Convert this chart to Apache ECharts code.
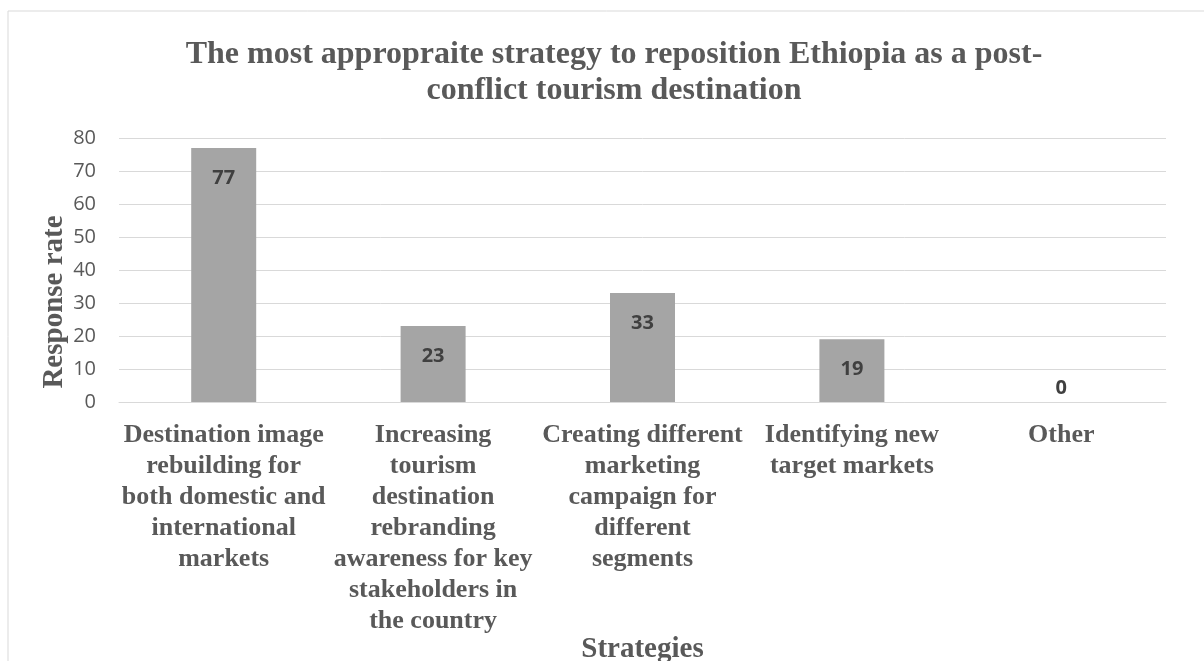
<!DOCTYPE html>
<html>
<head>
<meta charset="utf-8">
<script src="https://cdn.jsdelivr.net/npm/echarts@6/dist/echarts.min.js"></script>
<style>
  html, body { margin: 0; padding: 0; background: #ffffff; }
  #chart { width: 1204px; height: 661px; }
</style>
</head>
<body>
<div id="chart"></div>
<script>
// Survey answers: which strategy best repositions Ethiopia after the conflict
const chartTitle = 'The most appropraite strategy to reposition Ethiopia as a post-\nconflict tourism destination';
const strategies = [
  'Destination image\nrebuilding for\nboth domestic and\ninternational\nmarkets',
  'Increasing\ntourism\ndestination\nrebranding\nawareness for key\nstakeholders in\nthe country',
  'Creating different\nmarketing\ncampaign for\ndifferent\nsegments',
  'Identifying new\ntarget markets',
  'Other'
];
const responses = [77, 23, 33, 19, 0];
const yTicks = [0, 10, 20, 30, 40, 50, 60, 70, 80];

const serif = '"Liberation Serif", "Times New Roman", serif';
const sans = '"Open Sans", "Liberation Sans", sans-serif';
const grey = '#595959';

const chart = echarts.init(document.getElementById('chart'), null, { renderer: 'canvas' });

// Labels sit inside the top of each bar; an empty bar gets its label just above the axis
const barData = responses.map(v => ({
  value: v,
  label: v > 0
    ? { position: 'insideTop', distance: 20 }
    : { position: 'top', distance: 4 }
}));

chart.setOption({
  animation: false,
  backgroundColor: '#ffffff',
  graphic: [{
    type: 'rect',
    shape: { x: 8, y: 11, width: 1400, height: 900 },
    style: { fill: 'none', stroke: '#d9d9d9', lineWidth: 1 },
    silent: true
  }],
  title: {
    text: chartTitle,
    left: 609,
    top: 32,
    textAlign: 'center',
    textStyle: {
      fontFamily: serif,
      fontWeight: 'bold',
      fontSize: 32,
      lineHeight: 36,
      color: grey
    }
  },
  grid: {
    left: 119, right: 38, top: 138, bottom: 259,
    containLabel: false,
    outerBoundsMode: 'none'
  },
  xAxis: {
    type: 'category',
    data: strategies,
    name: 'Strategies',
    nameLocation: 'middle',
    nameGap: 233,
    nameMoveOverlap: false,
    nameTextStyle: { fontFamily: serif, fontWeight: 'bold', fontSize: 29, color: grey },
    axisLine: { show: true, lineStyle: { color: '#d9d9d9', width: 1 } },
    axisTick: { show: false },
    axisLabel: {
      interval: 0,
      margin: 18,
      fontFamily: serif,
      fontWeight: 'bold',
      fontSize: 26,
      lineHeight: 31,
      color: grey,
      align: 'center',
      verticalAlign: 'top'
    }
  },
  yAxis: {
    type: 'value',
    min: yTicks[0],
    max: yTicks[yTicks.length - 1],
    interval: yTicks[1] - yTicks[0],
    name: 'Response rate',
    nameLocation: 'middle',
    nameGap: 50,
    nameMoveOverlap: false,
    nameRotate: 90,
    nameTextStyle: {
      fontFamily: serif, fontWeight: 'bold', fontSize: 29, color: grey,
      padding: [0, 64, 0, 0]
    },
    axisLine: { show: false },
    axisTick: { show: false },
    splitLine: { lineStyle: { color: '#d9d9d9', width: 1 } },
    axisLabel: { margin: 23, fontFamily: sans, fontSize: 20, color: grey }
  },
  series: [{
    type: 'bar',
    data: barData,
    barWidth: 65,
    itemStyle: { color: '#a5a5a5' },
    label: {
      show: true,
      fontFamily: sans,
      fontWeight: 'bold',
      fontSize: 20,
      color: '#404040'
    }
  }]
});
</script>
</body>
</html>
